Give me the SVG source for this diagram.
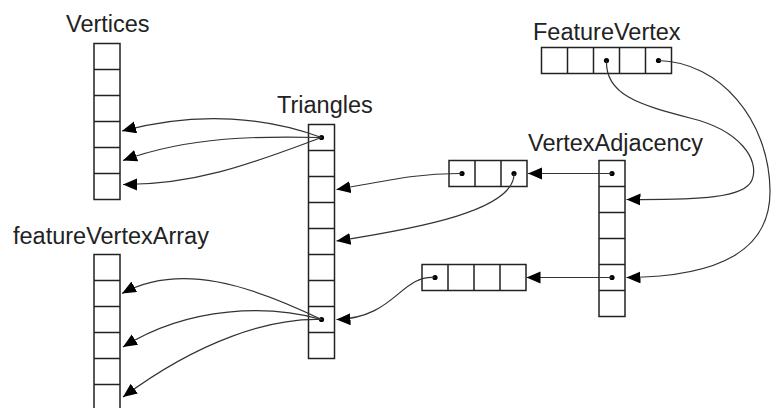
<svg xmlns="http://www.w3.org/2000/svg" width="771" height="408" viewBox="0 0 771 408">
<defs>
<marker id="ah" markerUnits="userSpaceOnUse" markerWidth="16" markerHeight="14" refX="14" refY="6" orient="auto">
<path d="M0,0 L14,6 L0,12 Z" fill="#000"/>
</marker>
<style>
.box{fill:#fff;stroke:#222;stroke-width:1.5}
.div{stroke:#222;stroke-width:1.5}
.lbl{font-family:"Liberation Sans",Arial,sans-serif;font-size:23.5px;fill:#222}
.dot{fill:#000}
.con{fill:none;stroke:#333;stroke-width:1.2;marker-end:url(#ah)}
</style>
</defs>
<rect width="771" height="408" fill="#fff"/>

<g id="vertices">
<text class="lbl" x="66" y="31.5">Vertices</text>
<rect class="box" x="94" y="43.5" width="26" height="156"/>
<path class="div" d="M94,69.5H120M94,95.5H120M94,121.5H120M94,147.5H120M94,173.5H120"/>
</g>

<g id="featureVertexArray">
<text class="lbl" x="13" y="243.5">featureVertexArray</text>
<rect class="box" x="94" y="254.5" width="26" height="156"/>
<path class="div" d="M94,280.5H120M94,306.5H120M94,332.5H120M94,358.5H120M94,384.5H120"/>
</g>

<g id="triangles">
<text class="lbl" x="277" y="112.5">Triangles</text>
<rect class="box" x="308.5" y="124.5" width="26" height="234"/>
<path class="div" d="M308.5,150.5H334.5M308.5,176.5H334.5M308.5,202.5H334.5M308.5,228.5H334.5M308.5,254.5H334.5M308.5,280.5H334.5M308.5,306.5H334.5M308.5,332.5H334.5"/>
<circle class="dot" cx="321.5" cy="137.5" r="2.6"/>
<circle class="dot" cx="321.5" cy="319.5" r="2.6"/>
</g>

<g id="adjacency3">
<rect class="box" x="449" y="160.5" width="78" height="26"/>
<path class="div" d="M475,160.5V186.5M501,160.5V186.5"/>
<circle class="dot" cx="462" cy="173.5" r="2.6"/>
<circle class="dot" cx="514" cy="173.5" r="2.6"/>
</g>

<g id="adjacency4">
<rect class="box" x="422" y="264.5" width="104" height="26"/>
<path class="div" d="M448,264.5V290.5M474,264.5V290.5M500,264.5V290.5"/>
<circle class="dot" cx="435" cy="277.5" r="2.6"/>
</g>

<g id="vertexAdjacency">
<text class="lbl" x="528" y="150.5">VertexAdjacency</text>
<rect class="box" x="599" y="160.5" width="26" height="156"/>
<path class="div" d="M599,186.5H625M599,212.5H625M599,238.5H625M599,264.5H625M599,290.5H625"/>
<circle class="dot" cx="612" cy="173.5" r="2.6"/>
<circle class="dot" cx="612" cy="277.5" r="2.6"/>
</g>

<g id="featureVertex">
<text class="lbl" x="533" y="39.5">FeatureVertex</text>
<rect class="box" x="541.5" y="47.5" width="130" height="26"/>
<path class="div" d="M567.5,47.5V73.5M593.5,47.5V73.5M619.5,47.5V73.5M645.5,47.5V73.5"/>
<circle class="dot" cx="606.5" cy="60.5" r="2.6"/>
<circle class="dot" cx="658.5" cy="60.5" r="2.6"/>
</g>

<g id="connectors">
<path class="con" d="M321.5,137.5 C270,118 200,110 122,131"/>
<path class="con" d="M321.5,137.5 C260,136 190,136 123,160.5"/>
<path class="con" d="M321.5,137.5 C260,160 200,185 123,184.5"/>
<path class="con" d="M321.5,319.5 C250,285 180,262 122,293.5"/>
<path class="con" d="M321.5,319.5 C270,305 190,305 123,347"/>
<path class="con" d="M321.5,319.5 C270,318 200,340 123,397"/>
<path class="con" d="M462,173.5 C420,173 390,180 336.5,189.5"/>
<path class="con" d="M514,173.5 C515,210 420,228 336.5,241"/>
<path class="con" d="M435,277.5 C400,275 395,318 336.5,319.5"/>
<path class="con" d="M612,173.5 L528,173.5"/>
<path class="con" d="M612,277.5 L526.5,277.5"/>
<path class="con" d="M606.5,60.5 C605,95 640,105 690,118 C740,130 760,160 752,180 C745,198 700,200 626.5,199.5"/>
<path class="con" d="M658.5,60.5 C720,62 769,120 770,190 C771,250 720,277 626.5,277.5"/>
</g>
</svg>
